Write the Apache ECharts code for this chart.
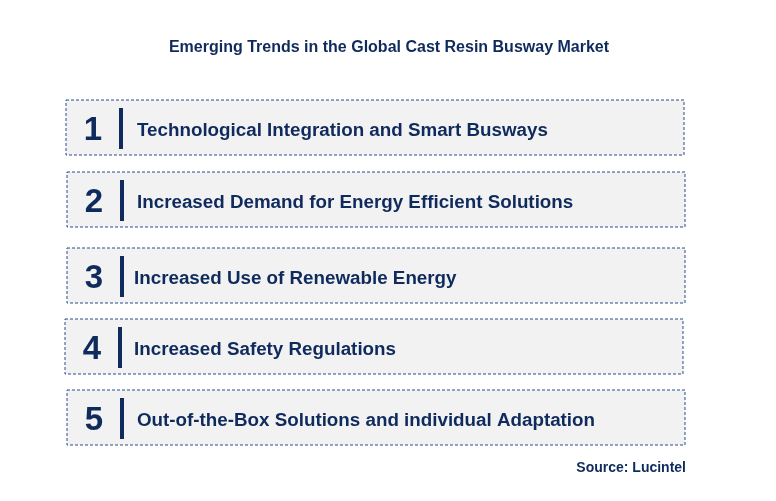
<!DOCTYPE html>
<html><head><meta charset="utf-8">
<script src="https://cdn.jsdelivr.net/npm/echarts@6/dist/echarts.min.js"></script>
<style>html,body{margin:0;padding:0;background:#fff}#c{width:776px;height:501px}</style>
</head><body><div id="c"></div>
<script>
const numbers = ['1', '2', '3', '4', '5'];
const trends = [
  'Technological Integration and Smart Busways',
  'Increased Demand for Energy Efficient Solutions',
  'Increased Use of Renewable Energy',
  'Increased Safety Regulations',
  'Out-of-the-Box Solutions and individual Adaptation'
];
const boxTops = [100, 172, 248, 319, 390];
const boxLefts = [66, 67, 67, 65, 67];
const textLefts = [137, 137, 134, 134, 137];

const chart = echarts.init(document.getElementById('c'));
const navy = '#0f2a5c';
const els = [];
trends.forEach((t, i) => {
  const y = boxTops[i], x = boxLefts[i];
  els.push({type: 'rect', shape: {x: x, y: y, width: 618, height: 55},
    style: {fill: '#f2f2f2', stroke: '#2a4a8c', lineWidth: 1, lineDash: [3, 2]}});
  els.push({type: 'text', style: {text: numbers[i], x: x + 27, y: y + 31, align: 'center', verticalAlign: 'middle',
    fill: navy, font: 'bold 33px Arial, Liberation Sans'}});
  els.push({type: 'rect', shape: {x: x + 53, y: y + 8, width: 4, height: 41}, style: {fill: navy}});
  els.push({type: 'text', style: {text: t, x: textLefts[i], y: y + 31, verticalAlign: 'middle',
    fill: navy, font: 'bold 18.8px Arial, Liberation Sans'}});
});
els.push({type: 'text', style: {text: 'Emerging Trends in the Global Cast Resin Busway Market', x: 389, y: 48,
  align: 'center', verticalAlign: 'middle', fill: navy, font: '600 16px Arial, Liberation Sans'}});
els.push({type: 'text', style: {text: 'Source: Lucintel', x: 686, y: 468,
  align: 'right', verticalAlign: 'middle', fill: navy, font: 'bold 14px Arial, Liberation Sans'}});
chart.setOption({animation: false, graphic: {elements: els}});
</script></body></html>
